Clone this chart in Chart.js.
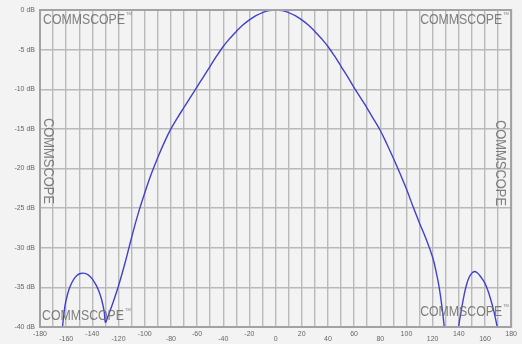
<!DOCTYPE html>
<html>
<head>
<meta charset="utf-8">
<script src="https://cdn.jsdelivr.net/npm/chart.js@4/dist/chart.umd.min.js"></script>
<style>
  html, body { margin: 0; padding: 0; background: #f3f3f3; }
  #wrap { width: 522px; height: 344px; }
</style>
</head>
<body>
<div id="wrap"><canvas id="pattern"></canvas></div>
<script>
// azimuth pattern (degrees / dB)
const angles = [-180, -170, -166, -163, -161, -159, -157, -155, -153, -151, -149, -147, -145, -143, -141, -139, -137, -135, -133, -131, -130,
  -128, -125, -120, -115, -110, -105, -100, -95, -90, -85, -80, -75, -70, -65, -60, -55, -50, -45, -40, -35, -30, -25,
  -20, -15, -10, -5, 0, 5, 10, 15, 20, 25, 30, 35, 40, 45, 50, 55, 60, 65, 70, 75, 80, 85, 90, 95, 100, 105, 110, 115,
  120, 123, 125, 127, 129, 131, 133, 135, 137, 140, 142, 144, 146, 148, 150, 152, 154, 156, 158, 160, 162, 164, 166, 168, 170,
  173, 176, 180];
const gainDb = [-55, -48, -44, -40.2, -37.4, -35.9, -34.9, -34.2, -33.7, -33.4, -33.25, -33.2, -33.27, -33.45, -33.75, -34.2, -34.75, -35.5, -36.5, -38.0, -39.4,
  -38.6, -37.3, -34.8, -31.9, -28.7, -25.7, -23.1, -20.7, -18.6, -16.7, -15.0, -13.6, -12.3, -11.0, -9.7, -8.4, -7.1, -5.8, -4.6, -3.6, -2.7, -1.9,
  -1.25, -0.72, -0.32, -0.08, 0, -0.08, -0.32, -0.72, -1.25, -1.9, -2.7, -3.6, -4.6, -5.8, -7.1, -8.4, -9.8, -11.1, -12.4, -13.8, -15.2, -16.9, -18.7, -20.6, -22.6, -24.8, -26.9, -28.9,
  -31.2, -33.3, -35.0, -37.3, -40.2, -44, -48, -46, -43.5, -39.8, -37.8, -36.0, -34.6, -33.7, -33.2, -33.0, -33.15, -33.5, -33.95, -34.5, -35.3, -36.3, -37.5, -38.9, -40.5,
  -43, -48, -52];

const xTicks = [-180, -160, -140, -120, -100, -80, -60, -40, -20, 0, 20, 40, 60, 80, 100, 120, 140, 160, 180];
const yTicks = [0, -5, -10, -15, -20, -25, -30, -35, -40];
const brand = 'COMMSCOPE';

const GRID = '#b9b9b9';
const TXT = '#666';
const tickFont = { size: 7, family: "'Liberation Sans', Arial, sans-serif", lineHeight: '5px' };
const LOGO_FONT = "15px 'Liberation Sans', Arial, sans-serif";

// watermark logos + frame on top of the trace
const overlay = {
  id: 'overlay',
  afterDatasetsDraw(chart){
    const { ctx, chartArea: a } = chart;
    ctx.save();
    ctx.strokeStyle = '#a2a2a2';
    ctx.lineWidth = 2;
    ctx.strokeRect(a.left, a.top, a.right - a.left, a.bottom - a.top);
    ctx.fillStyle = 'rgba(110,110,110,0.88)';
    ctx.textBaseline = 'alphabetic';
    const w = 82;
    const flat = [[a.left + 3, a.top + 14], [a.right - 91, a.top + 14], [a.left + 2, a.bottom - 7], [a.right - 91, a.bottom - 11]];
    flat.forEach(([x, y]) => {
      ctx.font = LOGO_FONT;
      ctx.fillText(brand, x, y, w);
      ctx.font = "4px 'Liberation Sans', sans-serif";
      ctx.fillText('TM', x + w + 1, y - 9);
    });
    ctx.font = LOGO_FONT;
    [[a.left + 4, 118], [a.right - 15, 120]].forEach(([x, y]) => {
      ctx.save();
      ctx.translate(x, y);
      ctx.rotate(Math.PI / 2);
      ctx.fillText(brand, 0, 0, w + 4);
      ctx.restore();
    });
    ctx.restore();
  }
};

new Chart(document.getElementById('pattern'), {
  type: 'line',
  data: {
    datasets: [{
      data: angles.map((a, i) => ({ x: a, y: gainDb[i] })),
      borderColor: '#4040d0',
      borderWidth: 1.4,
      pointRadius: 0,
      tension: 0.4,
      fill: false,
    }]
  },
  options: {
    responsive: true, maintainAspectRatio: false, animation: false,
    layout: { padding: { top: 10, right: 6, left: 0, bottom: 0 } },
    plugins: { legend: { display: false }, tooltip: { enabled: false } },
    scales: {
      x: {
        type: 'linear', min: -180, max: 180,
        afterFit: s => { s.height = 17; },
        afterBuildTicks: s => {
          const t = [];
          for (let v = -180; v <= 180; v += 10) t.push({ value: v });
          s.ticks = t;
        },
        grid: { color: GRID, lineWidth: 1.4, drawTicks: false },
        border: { display: false },
        ticks: {
          autoSkip: false, maxRotation: 0, padding: 5, color: TXT, font: tickFont,
          callback: v => {
            const i = xTicks.indexOf(v);
            if (i < 0) return '';
            return i % 2 === 0 ? [String(v), ''] : ['', String(v)];
          }
        }
      },
      y: {
        min: -40, max: 0,
        afterFit: s => { s.width = 40; },
        afterBuildTicks: s => { s.ticks = yTicks.map(v => ({ value: v })); },
        grid: { color: GRID, lineWidth: 1.4, drawTicks: false },
        border: { display: false },
        ticks: { padding: 5, color: TXT, font: { size: 7, family: "'Liberation Sans', Arial, sans-serif" },
          callback: v => v + ' dB' }
      }
    }
  },
  plugins: [overlay]
});
</script>
</body>
</html>
